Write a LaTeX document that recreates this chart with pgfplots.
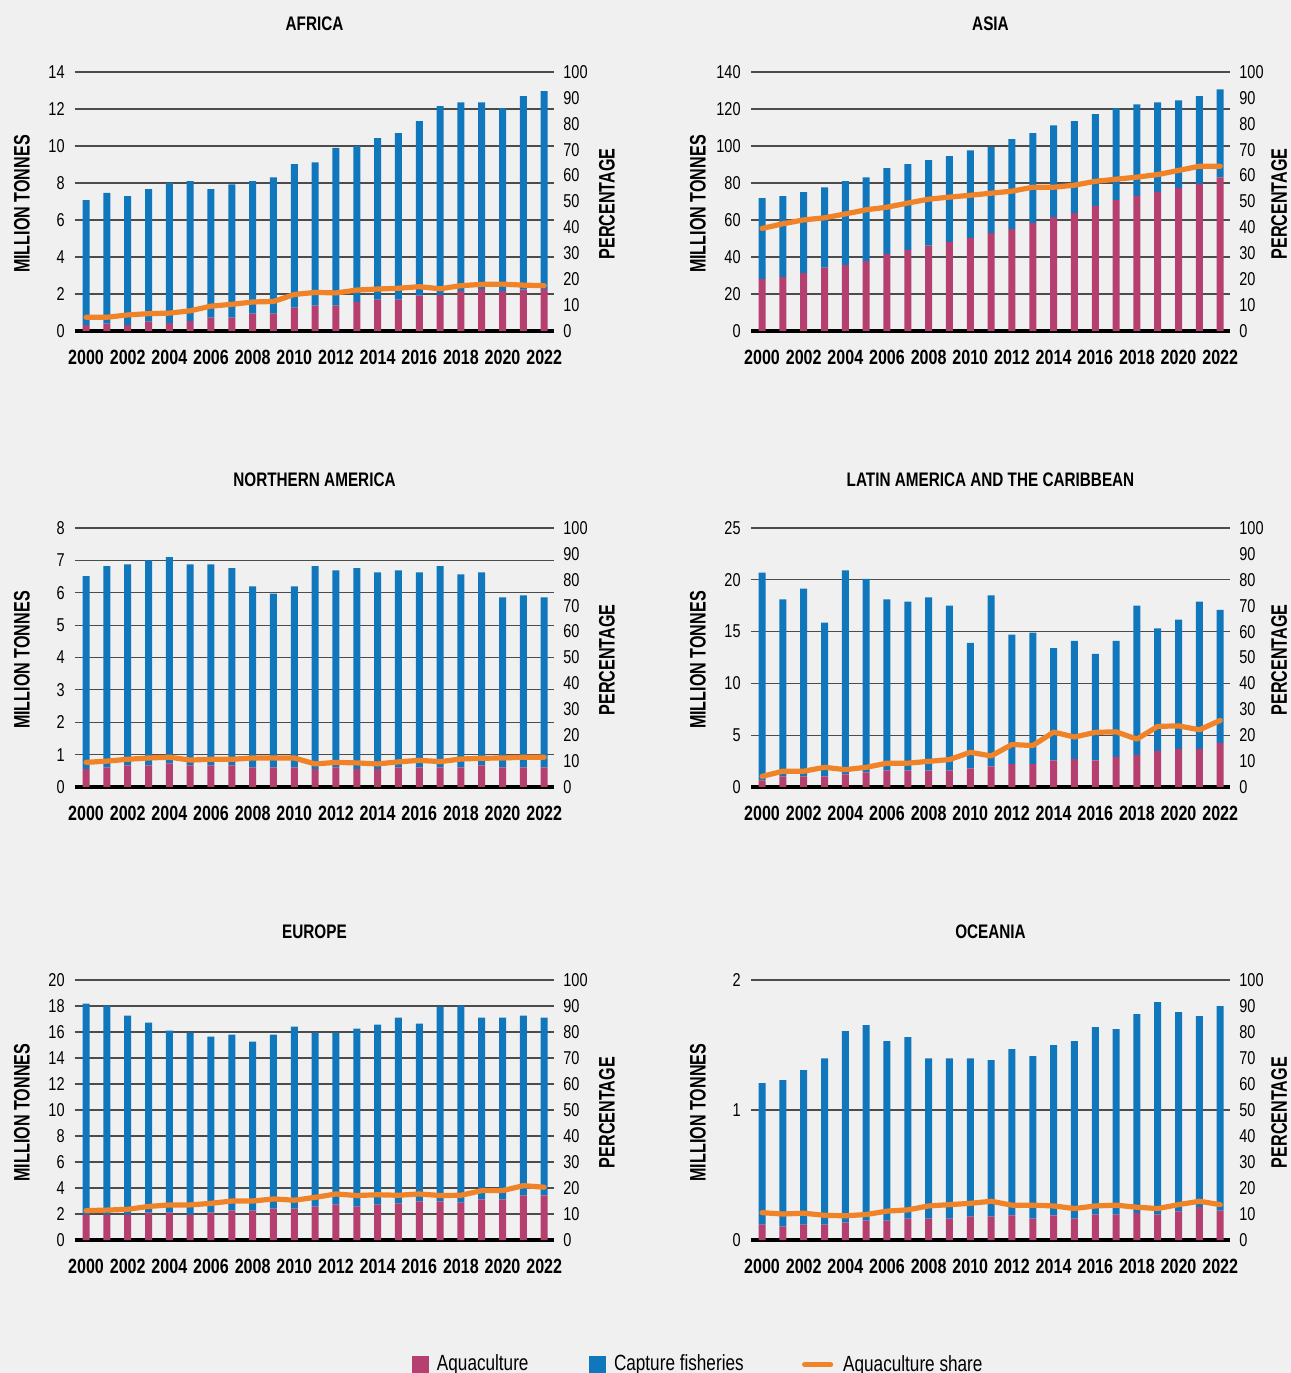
\documentclass[border=0pt]{standalone}
\usepackage{pgfplots}
\pgfplotsset{compat=1.18}
\usepackage{pgfplotstable}
\usepackage{fontspec}
\setmainfont[FakeStretch=0.78]{Liberation Sans}
\newfontfamily\labfont[FakeStretch=0.72]{Liberation Sans}
\definecolor{aqua}{RGB}{181,64,112}
\definecolor{capt}{RGB}{17,119,189}
\definecolor{shr}{RGB}{240,130,40}
\definecolor{bg}{RGB}{240,240,240}

\pgfplotstableread{
year aqua capt share
2000 0.32 6.75 5.3
2001 0.40 7.07 5.3
2002 0.32 6.97 6.2
2003 0.50 7.17 6.7
2004 0.43 7.56 6.9
2005 0.54 7.56 7.8
2006 0.72 6.95 9.6
2007 0.72 7.20 10.3
2008 0.94 7.16 11.2
2009 0.94 7.37 11.4
2010 1.26 7.76 14.1
2011 1.37 7.75 14.9
2012 1.37 8.53 14.7
2013 1.58 8.41 15.8
2014 1.69 8.73 16.2
2015 1.69 9.00 16.5
2016 1.91 9.43 17.1
2017 1.94 10.21 16.3
2018 2.16 10.20 17.5
2019 2.27 10.09 18.0
2020 2.16 9.88 18.1
2021 2.23 10.46 17.7
2022 2.27 10.70 17.5
}\africa

\pgfplotstableread{
year aqua capt share
2000 28.1 43.7 39.6
2001 29.2 43.7 41.4
2002 31.3 43.7 42.9
2003 34.2 43.5 43.7
2004 35.6 45.4 45.2
2005 37.8 45.3 46.8
2006 41.7 46.3 47.8
2007 43.9 46.3 49.4
2008 46.1 46.2 50.9
2009 48.2 46.3 51.7
2010 50.4 47.3 52.4
2011 52.9 46.6 53.2
2012 55.1 48.6 54.0
2013 58.3 48.6 55.5
2014 61.5 49.7 55.5
2015 63.7 49.7 56.3
2016 67.7 49.5 57.8
2017 70.9 49.5 58.6
2018 73.1 49.4 59.4
2019 75.2 48.4 60.4
2020 77.4 47.3 62.0
2021 79.5 47.4 63.6
2022 83.1 47.5 63.6
}\asia

\pgfplotstableread{
year aqua capt share
2000 0.55 5.96 9.5
2001 0.61 6.21 10.0
2002 0.67 6.21 10.7
2003 0.67 6.33 11.2
2004 0.73 6.37 11.5
2005 0.67 6.21 10.4
2006 0.67 6.21 10.7
2007 0.67 6.09 10.7
2008 0.61 5.59 11.2
2009 0.61 5.36 11.2
2010 0.61 5.59 11.2
2011 0.55 6.27 8.9
2012 0.61 6.08 9.5
2013 0.55 6.21 9.3
2014 0.55 6.08 8.9
2015 0.61 6.08 9.7
2016 0.61 6.02 10.3
2017 0.61 6.21 9.8
2018 0.61 5.96 10.8
2019 0.67 5.96 11.1
2020 0.61 5.25 11.2
2021 0.61 5.31 11.5
2022 0.61 5.25 11.5
}\namerica

\pgfplotstableread{
year aqua capt share
2000 0.65 20.05 4.1
2001 1.03 17.07 6.1
2002 1.03 18.12 6.1
2003 1.03 14.83 7.6
2004 1.23 19.67 6.7
2005 1.42 18.68 7.6
2006 1.60 16.50 9.2
2007 1.60 16.30 9.2
2008 1.60 16.70 9.9
2009 1.60 15.90 10.6
2010 1.80 12.10 13.4
2011 2.00 16.50 12.0
2012 2.20 12.50 16.4
2013 2.20 12.70 16.0
2014 2.58 10.82 21.2
2015 2.70 11.40 19.3
2016 2.58 10.27 21.1
2017 2.90 11.20 21.3
2018 3.10 14.40 18.5
2019 3.49 11.81 23.4
2020 3.68 12.47 23.6
2021 3.68 14.22 22.1
2022 4.26 12.84 25.7
}\latam

\pgfplotstableread{
year aqua capt share
2000 1.95 16.23 11.3
2001 1.95 16.08 11.5
2002 1.95 15.31 11.8
2003 2.10 14.62 12.9
2004 2.10 14.00 13.5
2005 1.95 14.00 13.5
2006 2.10 13.54 14.1
2007 2.26 13.54 15.0
2008 2.26 13.00 15.0
2009 2.41 13.39 15.8
2010 2.41 14.00 15.3
2011 2.56 13.39 16.4
2012 2.72 13.23 17.7
2013 2.56 13.70 17.1
2014 2.72 13.84 17.4
2015 2.82 14.28 17.2
2016 2.97 13.67 17.7
2017 2.97 14.98 17.1
2018 2.87 15.16 17.2
2019 3.13 13.97 19.0
2020 3.13 13.97 19.0
2021 3.44 13.82 20.9
2022 3.44 13.66 20.3
}\europe

\pgfplotstableread{
year aqua capt share
2000 0.118 1.088 10.5
2001 0.103 1.126 10.0
2002 0.118 1.188 10.3
2003 0.118 1.280 9.5
2004 0.134 1.473 9.3
2005 0.149 1.504 9.8
2006 0.149 1.381 11.1
2007 0.165 1.395 11.6
2008 0.165 1.233 13.1
2009 0.165 1.233 13.6
2010 0.180 1.218 14.1
2011 0.180 1.203 14.9
2012 0.190 1.278 13.4
2013 0.165 1.249 13.4
2014 0.190 1.309 13.1
2015 0.165 1.365 12.1
2016 0.195 1.443 13.1
2017 0.195 1.427 13.4
2018 0.206 1.532 12.6
2019 0.195 1.635 12.1
2020 0.221 1.532 13.6
2021 0.252 1.470 14.9
2022 0.226 1.574 13.6
}\oceania

\pgfplotsset{
  base/.style={
    scale only axis, width=239.5pt,
    xmin=1999.47, xmax=2022.47, ymin=0,
    enlargelimits=false,
    axis line style={draw=none}, tick style={draw=none},
    scaled x ticks=false, scaled y ticks=false,
    /pgf/number format/assume math mode=true,
  },
  prim/.style={base,
    ybar stacked, bar width=3.5pt,
    xtick={2000,2002,...,2022},
    xticklabel style={font=\bfseries\fontsize{10.3}{12}\selectfont, anchor=center, yshift=-13.25pt, /pgf/number format/1000 sep={}},
    yticklabel style={font=\fontsize{9.3}{11}\selectfont, anchor=east, inner sep=0pt, xshift=-5pt},
    ymajorgrids, grid style={draw=black!70, line width=0.6pt},
    extra y ticks={0}, extra y tick labels={},
    extra y tick style={grid=major, major grid style={draw=black, line width=1.6pt}},
    ylabel={MILLION TONNES},
    ylabel style={at={(axis description cs:-0.1106,0.49)}, anchor=center, font=\labfont\bfseries\fontsize{11.2}{13}\selectfont},
    title style={at={(axis description cs:0.5,1.14)}, anchor=center, font=\bfseries\fontsize{9.8}{12}\selectfont},
  },
  sec/.style={base,
    ymax=100, ytick={0,10,...,100}, xtick=\empty,
    yticklabel pos=right,
    yticklabel style={font=\fontsize{9.3}{11}\selectfont, anchor=west, inner sep=0pt, xshift=4.5pt},
    ylabel={PERCENTAGE},
    ylabel style={at={(axis description cs:1.1106,0.49)}, anchor=center, font=\labfont\bfseries\fontsize{11.2}{13}\selectfont},
    legend style={draw=none, fill=none, inner sep=0pt, outer sep=0pt, anchor=west,
      nodes={inner sep=0pt, font=\fontsize{11}{13}\selectfont}},
  },
  rcol/.style={ylabel style={at={(axis description cs:1.1025,0.49)}}},
  sqleg/.style={legend image code/.code={\fill[##1] (0pt,-4.25pt) rectangle (8.5pt,4.25pt); \path (12.5pt,0pt);}},
  lnleg/.style={legend image code/.code={\draw[##1] (1.5pt,0pt) -- (14.5pt,0pt); \path (19.5pt,0pt);}},
}

\newcommand{\panel}[8]{%
  \begin{axis}[prim, at={#1}, height=#2, title={#3}, ymax=#5, ytick={#6}]
    \addplot[fill=aqua, draw=none] table[x=year,y=aqua]{#4};
    \addplot[fill=capt, draw=none] table[x=year,y=capt]{#4};
  \end{axis}
  \begin{axis}[sec, at={#1}, height=#2, #7]
    #8
    \addplot[shr, line width=2.6pt, line join=round, line cap=round, forget plot] table[x=year,y=share]{#4};
  \end{axis}}

\begin{document}
\begin{tikzpicture}
\fill[bg] (0,0) rectangle (645.5pt,686.5pt);
\panel{(37.5pt,521pt)}{129.5pt}{AFRICA}{\africa}{14}{0,2,...,14}{}{}
\panel{(375.5pt,521pt)}{129.5pt}{ASIA}{\asia}{140}{0,20,...,140}{rcol}{}
\panel{(37.5pt,293pt)}{129.5pt}{NORTHERN AMERICA}{\namerica}{8}{0,1,...,8}{}{}
\panel{(375.5pt,293pt)}{129.5pt}{LATIN AMERICA AND THE CARIBBEAN}{\latam}{25}{0,5,...,25}%
  {rcol, lnleg, legend style={at={(axis description cs:0.1065,-2.230)}}}%
  {\addlegendimage{shr, line width=2.6pt, line cap=round}\addlegendentry{Aquaculture share}}
\panel{(37.5pt,66.5pt)}{130pt}{EUROPE}{\europe}{20}{0,2,...,20}%
  {sqleg, legend style={at={(axis description cs:0.7035,-0.477)}}}%
  {\addlegendimage{fill=aqua, draw=none}\addlegendentry{Aquaculture}}
\panel{(375.5pt,66.5pt)}{130pt}{OCEANIA}{\oceania}{2}{0,1,2}%
  {rcol, sqleg, legend style={at={(axis description cs:-0.3382,-0.477)}}}%
  {\addlegendimage{fill=capt, draw=none}\addlegendentry{Capture fisheries}}
\pgfresetboundingbox
\path[use as bounding box] (0,0) rectangle (645.5pt,686.5pt);
\end{tikzpicture}
\end{document}
